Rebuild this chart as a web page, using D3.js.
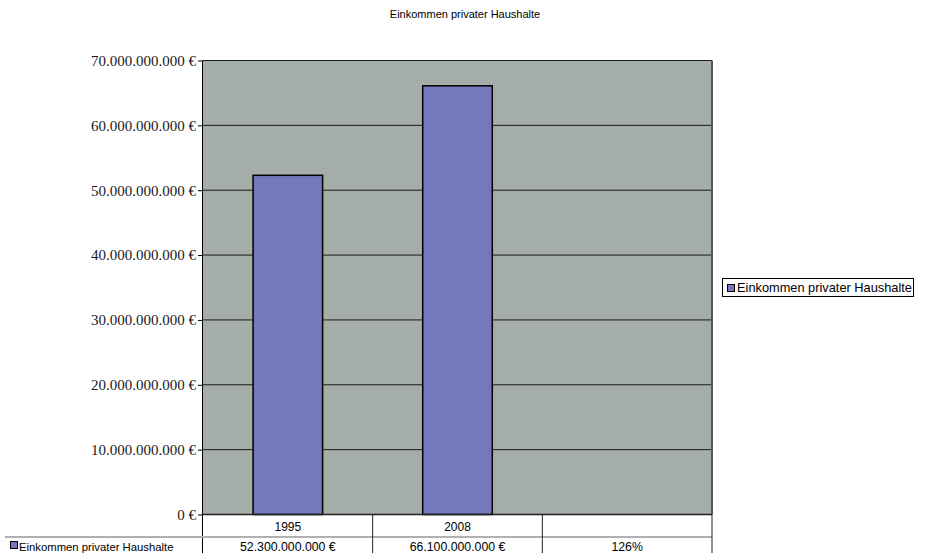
<!DOCTYPE html>
<html><head><meta charset="utf-8">
<script src="https://cdn.jsdelivr.net/npm/d3@7"></script>
<style>body{margin:0;background:#fff}</style>
</head><body>
<svg id="c" width="931" height="553"></svg>
<script>
const title = "Einkommen privater Haushalte";
const seriesName = "Einkommen privater Haushalte";
const categories = ["1995", "2008", ""];
const values = [52300000000, 66100000000, null];
const tableLabels = ["52.300.000.000 €", "66.100.000.000 €", "126%"];
const yTicks = [0, 10e9, 20e9, 30e9, 40e9, 50e9, 60e9, 70e9];

const svg = d3.select("#c");
const L = 203, R = 712, T = 60.5, B = 514.5;
const x = d3.scaleBand().domain(categories).range([L, R]).paddingInner(0).paddingOuter(0);
const y = d3.scaleLinear().domain([0, 70e9]).range([B, T]);
const fmt = v => (v === 0 ? "0" : d3.format(",")(v).replace(/,/g, ".")) + " €";

svg.append("text").attr("x", 465).attr("y", 18).attr("text-anchor", "middle")
  .attr("font-family", "Liberation Sans, Arial").attr("font-size", 11).text(title);

svg.append("rect").attr("x", L).attr("y", T).attr("width", R - L).attr("height", B - T)
  .attr("fill", "#a5ada9");

svg.append("g").selectAll("line").data(yTicks.slice(1)).join("line")
  .attr("x1", L).attr("x2", R).attr("y1", d => y(d)).attr("y2", d => y(d))
  .attr("stroke", "#1a1a1a").attr("stroke-width", 1);

// plot border right
svg.append("line").attr("x1", R).attr("x2", R).attr("y1", T).attr("y2", B)
  .attr("stroke", "#555").attr("stroke-width", 2);

const bw = x.bandwidth() * 0.41;
svg.append("g").selectAll("rect").data(categories.map((c, i) => ({c, v: values[i]})).filter(d => d.v != null))
  .join("rect")
  .attr("x", d => x(d.c) + x.bandwidth() / 2 - bw / 2)
  .attr("y", d => y(d.v)).attr("width", bw).attr("height", d => B - y(d.v))
  .attr("fill", "#7478bc").attr("stroke", "#000").attr("stroke-width", 1.5);

const ax = svg.append("g").attr("transform", `translate(${L},0)`)
  .call(d3.axisLeft(y).tickValues(yTicks).tickFormat(fmt).tickSize(5).tickPadding(2));
ax.select(".domain").attr("stroke", "#000").attr("d", `M-0.5,${T}V${B + 39}`);
ax.selectAll(".tick line").attr("stroke", "#000");
ax.selectAll("text").attr("font-family", "Liberation Serif, Times New Roman").attr("font-size", 15).attr("fill", "#1a1a1a");

// table
const tRow2 = 537;
svg.append("line").attr("x1", L).attr("x2", R).attr("y1", B).attr("y2", B).attr("stroke", "#222").attr("stroke-width", 1.5);
svg.append("line").attr("x1", 5).attr("x2", R).attr("y1", tRow2).attr("y2", tRow2).attr("stroke", "#b0b0b0").attr("stroke-width", 2);
svg.append("g").selectAll("line").data(categories).join("line")
  .attr("x1", d => x(d) + x.bandwidth()).attr("x2", d => x(d) + x.bandwidth())
  .attr("y1", B).attr("y2", 553).attr("stroke", "#222").attr("stroke-width", 1);
svg.append("g").selectAll("text").data(categories).join("text")
  .attr("x", d => x(d) + x.bandwidth() / 2).attr("y", 531).attr("text-anchor", "middle")
  .attr("font-family", "Liberation Sans, Arial").attr("font-size", 12).text(d => d);
svg.append("g").selectAll("text").data(tableLabels).join("text")
  .attr("x", (d, i) => x(categories[i]) + x.bandwidth() / 2).attr("y", 551).attr("text-anchor", "middle")
  .attr("font-family", "Liberation Sans, Arial").attr("font-size", 12.3).text(d => d);
svg.append("rect").attr("x", 10.5).attr("y", 541.5).attr("width", 7).attr("height", 7)
  .attr("fill", "#7478bc").attr("stroke", "#000");
svg.append("text").attr("x", 19).attr("y", 551).attr("font-family", "Liberation Sans, Arial")
  .attr("font-size", 11.3).text(seriesName);

// legend
const lg = svg.append("g");
lg.append("rect").attr("x", 722.5).attr("y", 278.5).attr("width", 191).attr("height", 18)
  .attr("fill", "#fff").attr("stroke", "#000");
lg.append("rect").attr("x", 727.5).attr("y", 284.5).attr("width", 7).attr("height", 7)
  .attr("fill", "#7478bc").attr("stroke", "#000");
lg.append("text").attr("x", 737).attr("y", 292).attr("font-family", "Liberation Sans, Arial")
  .attr("font-size", 12.8).text(seriesName);
</script>
</body></html>
